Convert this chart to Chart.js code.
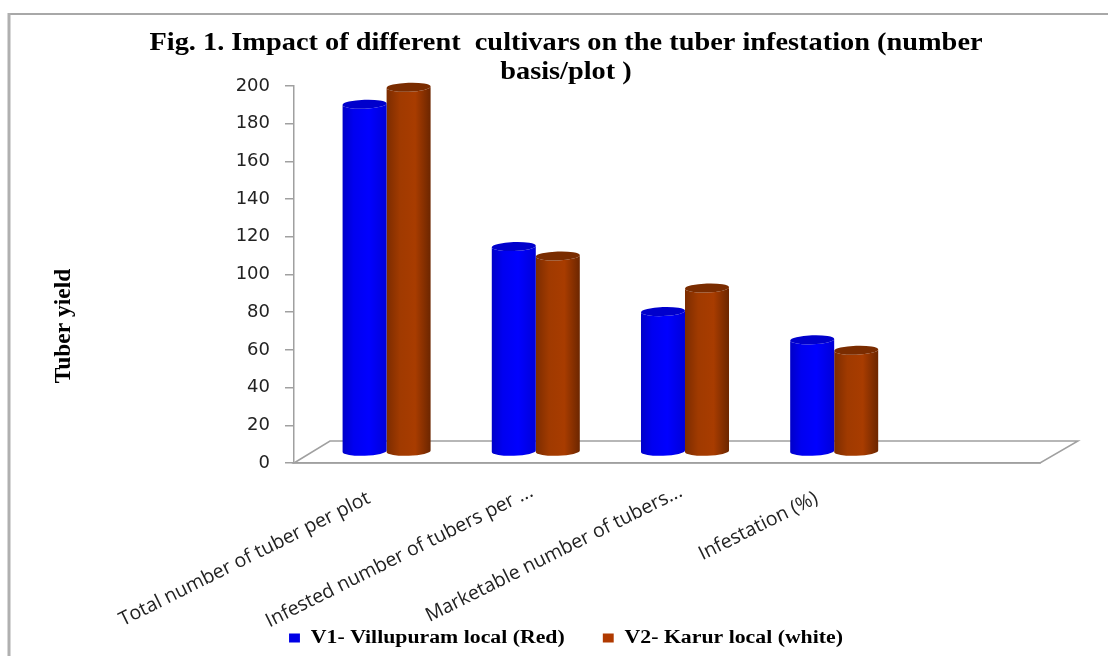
<!DOCTYPE html>
<html>
<head>
<meta charset="utf-8">
<style>html,body{margin:0;padding:0;background:#fff}canvas{display:block}</style>
<script src="https://cdn.jsdelivr.net/npm/chart.js@4"></script>
</head>
<body>
<canvas id="c" width="1108" height="656"></canvas>
<script>
const categories = ['Total number of tuber per plot', 'Infested number of tubers per ...', 'Marketable number of tubers...', 'Infestation (%)', ''];
const v1Values = [184.5, 109, 74.5, 59.5, null];
const v2Values = [193.5, 104, 87, 54, null];
const yTicks = [0, 20, 40, 60, 80, 100, 120, 140, 160, 180, 200];
const titleLines = ['Fig. 1. Impact of different  cultivars on the tuber infestation (number', 'basis/plot )'];
const yAxisLabel = 'Tuber yield';
const seriesNames = ['V1- Villupuram local (Red)', 'V2- Karur local (white)'];

const serif = '"Liberation Serif", serif';
const DEPTH_X = 36, DEPTH_Y = 22;

// Linear gradient across a cylinder to give it a rounded look.
function sideShade(ctx, l, r, stops) {
  const g = ctx.createLinearGradient(l, 0, r, 0);
  stops.forEach(s => g.addColorStop(s[0], s[1]));
  return g;
}

const shades = [
  { side: [[0, '#0000c8'], [0.25, '#0000f0'], [0.6, '#0000ff'], [1, '#0000d8']], cap: '#0000cc' },
  { side: [[0, '#7c2c00'], [0.3, '#a03a00'], [0.65, '#a83c00'], [1, '#6c2600']], cap: '#7a2c00' }
];

// Widens a layout box horizontally about its centre when it is painted.
function widen(box, sx, dy) {
  const paint = box.draw;
  box.draw = function (area) {
    const c = box.left + box.width / 2;
    const ctx = box.ctx;
    ctx.save();
    ctx.translate(c, dy);
    ctx.scale(sx, 1);
    ctx.translate(-c, 0);
    paint.call(box, area);
    ctx.restore();
  };
}

// Floor slab, page frame, cylinders and the rotated axis caption.
const scenery = {
  id: 'scenery',
  afterLayout(chart) {
    if (chart.$widened) return;
    chart.$widened = true;
    widen(chart.titleBlock, 1.09, 1);
    widen(chart.legend, 1.21, 1);
  },
  beforeDraw(chart) {
    const { ctx } = chart;
    ctx.save();
    ctx.strokeStyle = '#a8a8a8';
    ctx.lineWidth = 2;
    ctx.beginPath();
    ctx.moveTo(1108, 14); ctx.lineTo(9, 14);
    ctx.stroke();
    ctx.lineWidth = 3;
    ctx.strokeStyle = '#b0b0b0';
    ctx.beginPath();
    ctx.moveTo(9, 13); ctx.lineTo(9, 656);
    ctx.stroke();
    ctx.restore();
  },
  beforeDatasetsDraw(chart) {
    const { ctx, chartArea: a } = chart;
    ctx.save();
    ctx.strokeStyle = '#a0a0a0';
    ctx.lineWidth = 1.5;
    ctx.beginPath();
    ctx.moveTo(a.left, a.bottom);
    ctx.lineTo(a.left + DEPTH_X, a.bottom - DEPTH_Y);
    ctx.lineTo(a.right + DEPTH_X + 2, a.bottom - DEPTH_Y);
    ctx.lineTo(a.right, a.bottom);
    ctx.closePath();
    ctx.stroke();
    ctx.restore();
  },
  // Each bar is painted as a cylinder standing in the middle of the slab.
  beforeDatasetDraw(chart, args) {
    const { ctx } = chart;
    const shade = shades[args.index];
    const values = chart.data.datasets[args.index].data;
    args.meta.data.forEach((bar, i) => {
      if (values[i] == null) return;
      const p = bar.getProps(['x', 'y', 'base', 'width'], true);
      const cx = p.x + DEPTH_X / 2;
      const top = p.y - DEPTH_Y / 2;
      const bottom = p.base - DEPTH_Y / 2;
      const rx = p.width / 2, ry = 4.5, tilt = -0.035;
      ctx.save();
      ctx.fillStyle = sideShade(ctx, cx - rx, cx + rx, shade.side);
      ctx.beginPath();
      ctx.ellipse(cx, bottom, rx, ry, tilt, 0, Math.PI);
      ctx.lineTo(cx - rx, top);
      ctx.ellipse(cx, top, rx, ry, tilt, Math.PI, 0, true);
      ctx.closePath();
      ctx.fill();
      ctx.fillStyle = shade.cap;
      ctx.beginPath();
      ctx.ellipse(cx, top, rx, ry, tilt, 0, Math.PI * 2);
      ctx.fill();
      ctx.restore();
    });
    return false;
  },
  afterDraw(chart) {
    const { ctx } = chart;
    ctx.save();
    ctx.translate(64, 326);
    ctx.rotate(-Math.PI / 2);
    ctx.textAlign = 'center';
    ctx.textBaseline = 'middle';
    ctx.fillStyle = '#000';
    ctx.font = 'bold 23.5px ' + serif;
    ctx.fillText(yAxisLabel, 0, 0);
    ctx.restore();
  }
};

new Chart(document.getElementById('c'), {
  type: 'bar',
  plugins: [scenery],
  data: {
    labels: categories,
    datasets: [
      { label: seriesNames[0], data: v1Values, backgroundColor: '#0000e6' },
      { label: seriesNames[1], data: v2Values, backgroundColor: '#b03a00' }
    ]
  },
  options: {
    responsive: false,
    animation: false,
    layout: { padding: { left: 92, right: 68, top: 28, bottom: 0 } },
    datasets: { bar: { categoryPercentage: 0.59, barPercentage: 1 } },
    plugins: {
      tooltip: { enabled: false },
      title: {
        display: true,
        text: titleLines,
        color: '#000',
        padding: 0,
        font: { family: serif, weight: 'bold', size: 26, lineHeight: 29 / 26 }
      },
      legend: {
        position: 'bottom',
        labels: {
          color: '#000',
          boxWidth: 9,
          boxHeight: 9,
          padding: 0,
          font: { family: serif, weight: 'bold', size: 18 },
          generateLabels(chart) {
            return chart.data.datasets.map((ds, i) => ({
              text: i === 0 ? ds.label + '\u00a0'.repeat(7) : ds.label,
              fillStyle: ds.backgroundColor,
              strokeStyle: ds.backgroundColor,
              lineWidth: 0,
              datasetIndex: i
            }));
          }
        }
      }
    },
    scales: {
      x: {
        afterFit(s) { s.height = 165; },
        grid: { display: false },
        border: { display: true, color: '#a0a0a0', width: 1.5 },
        ticks: {
          autoSkip: false,
          minRotation: 26.5,
          maxRotation: 26.5,
          padding: 9,
          labelOffset: 14,
          color: '#222',
          font: { family: '"Open Sans"', size: 19.5 },
          // Whole labels sit a little further left than the shortened ones.
          callback(value) {
            const label = this.getLabelForValue(value);
            return label.endsWith('.') ? label : label + '\u00a0\u00a0\u00a0';
          }
        }
      },
      y: {
        min: 0,
        max: 200,
        afterFit(s) { s.width = 202; },
        afterBuildTicks(s) { s.ticks = yTicks.map(v => ({ value: v })); },
        grid: { drawOnChartArea: false, tickLength: 9, color: '#a0a0a0', lineWidth: 1.5 },
        border: { display: true, color: '#a0a0a0', width: 1.5 },
        ticks: { padding: 15, color: '#222', font: { family: '"DejaVu Sans"', size: 18 } }
      }
    }
  }
});
</script>
</body>
</html>
